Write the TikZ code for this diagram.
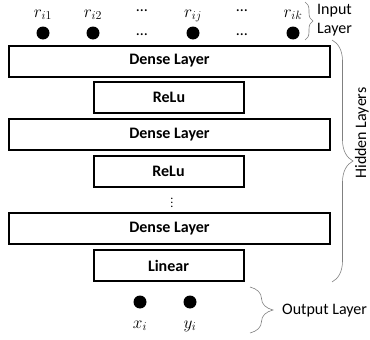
\documentclass[tikz,border=0pt]{standalone}
\usepackage{fontspec}
\setmainfont{Carlito}
\usetikzlibrary{decorations.pathreplacing}
\begin{document}
\begin{tikzpicture}[x=1pt,y=-1pt,
  layerbox/.style={draw=black,line width=2pt,minimum height=31pt,inner sep=0pt,font=\fontsize{16}{19}\selectfont\bfseries},
  densebox/.style={layerbox,minimum width=321pt},
  actbox/.style={layerbox,minimum width=150pt},
  neuron/.style={circle,fill=black,minimum size=13pt,inner sep=0pt},
  lbl/.style={inner sep=0pt,font=\fontsize{16}{19}\selectfont},
  mlbl/.style={inner sep=0pt,font=\fontsize{18}{21}\selectfont},
  bracepath/.style={draw=gray,line width=0.6pt,decorate,decoration={brace,amplitude=#1}}]
\useasboundingbox (0,0) rectangle (370,340);
% input neurons
\node[neuron] (n1) at (43,33) {};
\node[neuron] (n2) at (93,33) {};
\node[lbl,anchor=base] (d1) at (142,35) {…};
\node[neuron] (n3) at (193,33) {};
\node[lbl,anchor=base] (d2) at (242,35) {…};
\node[neuron] (n4) at (293,33) {};
\node[mlbl,anchor=base] (l1) at (43,17) {$r_{i1}$};
\node[mlbl,anchor=base] (l2) at (93,17) {$r_{i2}$};
\node[lbl,anchor=base] (l3) at (142,12) {…};
\node[mlbl,anchor=base] (l4) at (193,17) {$r_{ij}$};
\node[lbl,anchor=base] (l5) at (242,12) {…};
\node[mlbl,anchor=base] (l6) at (293,17) {$r_{ik}$};
% layers
\node[densebox] (dense1) at (169.5,61) {Dense Layer};
\node[actbox] (relu1) at (169,97.5) {ReLu};
\node[densebox] (dense2) at (169.5,134.5) {Dense Layer};
\node[actbox] (relu2) at (168.5,171) {ReLu};
\node[inner sep=0pt,font=\fontsize{12}{14}\selectfont] (vd) at (172,200) {$\vdots$};
\node[densebox] (dense3) at (169.5,228.5) {Dense Layer};
\node[actbox] (linear) at (168.5,265.5) {Linear};
% output neurons
\node[neuron] (o1) at (140,302) {};
\node[neuron] (o2) at (190,302) {};
\node[mlbl,anchor=base] (ox) at (140,328) {$x_i$};
\node[mlbl,anchor=base] (oy) at (190,328) {$y_i$};
% braces
\coordinate (ib1) at (305,2);
\coordinate (ib2) at (305,40);
\draw[bracepath=8] (ib1) -- (ib2);
\coordinate (hb1) at (332,40);
\coordinate (hb2) at (332,282);
\draw[bracepath=21] (hb1) -- (hb2);
\coordinate (ob1) at (250,287);
\coordinate (ob2) at (250,333);
\draw[bracepath=23] (ob1) -- (ob2);
\node[lbl,anchor=west,align=left] (inlbl) at (317,20) {Input\\Layer};
\node[lbl,rotate=90,anchor=base] (hidlbl) at (366,133) {Hidden Layers};
\node[lbl,anchor=west] (outlbl) at (282,311) {Output Layer};
\end{tikzpicture}
\end{document}
